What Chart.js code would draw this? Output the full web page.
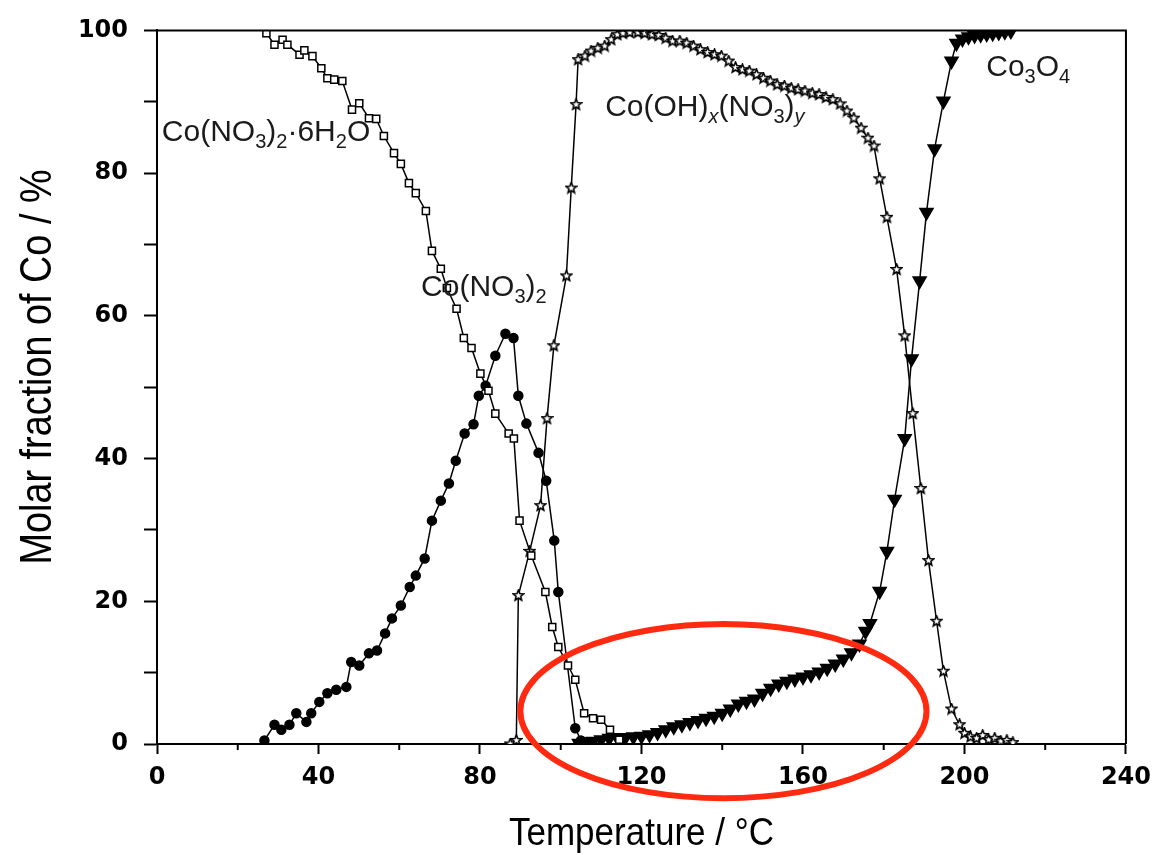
<!DOCTYPE html>
<html>
<head>
<meta charset="utf-8">
<script src="https://cdn.jsdelivr.net/npm/chart.js@4"></script>
<style>
  html, body { margin: 0; background: #fff; }
  canvas { display: block; }
</style>
</head>
<body>
<canvas id="chart" width="1160" height="855"></canvas>
<script>
// ── Data (temperature in °C, molar fraction in %)
const hexaT = [27.1, 29.1, 31.1, 32.3, 35.3, 36.5, 38.5, 40.7, 42.2, 43.9, 45.9, 48.3, 50.1, 52.5, 54.3, 56.2, 58.7, 60.4, 62.4, 64.1, 66.6, 68.1, 70.3, 71.8, 74.2, 76.0, 77.9, 80.1, 82.1, 83.8, 87.1, 88.4, 89.8, 92.7, 96.2, 97.9, 99.4, 101.8, 103.6, 105.8, 108.0, 110.0, 112.2, 114.5];
const hexaY = [99.6, 98.0, 98.7, 98.0, 96.6, 97.2, 96.4, 94.7, 93.3, 93.1, 92.9, 88.9, 89.8, 87.7, 87.6, 85.2, 82.8, 81.3, 78.6, 77.2, 74.7, 69.1, 66.6, 63.9, 61.0, 56.9, 55.5, 51.9, 49.5, 46.3, 43.5, 42.8, 31.3, 26.4, 21.3, 16.4, 13.6, 11.0, 9.0, 4.3, 3.6, 3.4, 2.0, 0.6];

const nitrateT = [26.6, 29.1, 30.8, 32.8, 34.5, 37.0, 38.2, 40.2, 42.2, 44.4, 46.9, 48.1, 50.1, 52.5, 54.5, 56.5, 58.2, 60.4, 62.6, 64.1, 66.3, 68.1, 70.3, 72.3, 74.0, 76.2, 78.4, 79.7, 81.4, 83.8, 86.3, 88.3, 89.5, 91.5, 94.5, 96.4, 98.4, 99.4, 103.6, 105.0];
const nitrateY = [0.5, 2.7, 2.0, 2.7, 4.3, 3.1, 4.3, 5.9, 7.1, 7.6, 8.0, 11.5, 11.0, 12.7, 13.1, 15.5, 17.6, 19.4, 22.0, 23.6, 26.0, 31.3, 34.1, 36.5, 39.7, 43.5, 44.8, 48.8, 50.2, 54.4, 57.5, 56.9, 48.8, 44.9, 40.8, 36.9, 28.5, 21.3, 2.2, 0.5];

const hydroxT = [87.5, 89.0, 89.5, 92.3, 95.0, 96.6, 98.3, 101.4, 102.6, 103.8, 104.3, 106.0, 107.5, 109.2, 110.9, 112.5, 114.0, 115.4, 117.1, 119.1, 120.8, 122.6, 124.3, 126.0, 127.7, 129.5, 131.2, 132.9, 134.6, 136.4, 138.1, 139.8, 141.6, 143.3, 145.0, 146.7, 148.5, 150.2, 151.9, 153.6, 155.4, 157.1, 158.8, 160.5, 162.3, 164.0, 165.7, 167.4, 169.2, 170.9, 172.6, 174.4, 176.1, 177.6, 179.0, 180.8, 183.2, 185.2, 187.2, 189.2, 191.1, 193.1, 194.8, 196.8, 198.8, 200.0, 201.5, 203.0, 204.5, 206.0, 207.5, 209.0, 210.5, 212.0];
const hydroxY = [0.0, 0.5, 20.8, 27.0, 33.4, 45.6, 55.8, 65.6, 77.9, 89.6, 95.9, 96.4, 97.1, 97.5, 97.8, 98.7, 99.4, 99.6, 99.7, 99.7, 99.6, 99.4, 99.3, 98.9, 98.5, 98.5, 98.2, 97.8, 97.3, 96.9, 96.6, 96.4, 95.7, 94.8, 94.5, 94.3, 93.8, 93.3, 92.9, 92.4, 92.2, 91.9, 91.7, 91.5, 91.2, 91.0, 90.6, 90.3, 89.7, 88.7, 87.7, 86.3, 84.9, 83.8, 79.2, 73.8, 66.5, 57.2, 46.3, 35.8, 25.7, 17.2, 10.2, 4.9, 2.7, 1.5, 1.0, 0.8, 1.2, 0.6, 0.8, 0.4, 0.5, 0.2];

const oxideT = [104.5, 106.0, 108.0, 110.0, 112.0, 114.0, 116.0, 118.0, 120.0, 122.0, 124.0, 126.0, 128.0, 130.0, 132.0, 134.0, 136.0, 138.0, 140.0, 142.0, 144.0, 146.0, 148.0, 150.0, 152.0, 154.0, 156.0, 158.0, 160.0, 162.0, 164.0, 166.0, 168.0, 170.0, 172.0, 174.0, 175.5, 176.6, 179.0, 180.8, 182.7, 185.2, 186.9, 188.9, 190.6, 192.6, 194.8, 196.8, 198.0, 199.5, 201.0, 202.5, 204.0, 205.5, 207.0, 208.5, 210.0, 211.5];
const oxideY = [0.1, 0.3, 0.4, 0.6, 0.8, 0.9, 0.9, 1.0, 1.1, 1.3, 1.6, 2.0, 2.4, 2.7, 3.0, 3.3, 3.6, 3.9, 4.3, 4.9, 5.6, 6.0, 6.3, 7.1, 7.8, 8.4, 8.8, 9.1, 9.4, 9.7, 10.1, 10.6, 11.2, 11.9, 12.8, 14.0, 15.8, 16.9, 21.4, 27.0, 34.3, 42.8, 54.0, 64.9, 74.5, 83.4, 90.1, 95.7, 98.2, 98.8, 99.1, 99.3, 99.4, 99.5, 99.6, 99.7, 99.8, 99.9];

const xMajor = [0, 40, 80, 120, 160, 200, 240];
const yMajor = [0, 20, 40, 60, 80, 100];

// ── Marker images
function starImage(size) {
  const c = document.createElement('canvas');
  c.width = c.height = size;
  const g = c.getContext('2d');
  const cx = size / 2, cy = size / 2, R = size / 2 - 1, r = R * 0.45;
  g.beginPath();
  for (let i = 0; i < 10; i++) {
    const a = -Math.PI / 2 + i * Math.PI / 5;
    const rad = i % 2 ? r : R;
    g.lineTo(cx + rad * Math.cos(a), cy + rad * Math.sin(a));
  }
  g.closePath();
  g.fillStyle = '#fff';
  g.fill();
  g.lineWidth = 1.6;
  g.strokeStyle = '#000';
  g.stroke();
  return c;
}
const star = starImage(13);

const pts = (xs, ys) => xs.map((x, i) => ({ x, y: ys[i] }));

// ── Plugins: frame, minor x ticks, labels, axis titles, red ellipse
const frame = {
  id: 'frame',
  afterDraw(chart) {
    const { ctx, chartArea: a, scales: { x } } = chart;
    ctx.save();
    ctx.strokeStyle = '#000';
    ctx.lineWidth = 2;
    ctx.beginPath();
    ctx.moveTo(a.left, a.top);
    ctx.lineTo(a.right, a.top);
    ctx.lineTo(a.right, a.bottom);
    ctx.stroke();
    for (let v = 20; v < 240; v += 40) {
      const px = x.getPixelForValue(v);
      ctx.beginPath();
      ctx.moveTo(px, a.bottom);
      ctx.lineTo(px, a.bottom + 6);
      ctx.stroke();
    }
    ctx.restore();
  }
};

function formula(ctx, parts, x, y) {
  // parts: [text, kind] where kind: '' normal, 's' subscript, 'i' italic subscript
  for (const [t, k] of parts) {
    if (k) {
      ctx.font = (k === 'i' ? 'italic ' : '') + '20px "Liberation Sans", Arial, sans-serif';
      ctx.fillText(t, x, y + 7);
    } else {
      ctx.font = '30px "Liberation Sans", Arial, sans-serif';
      ctx.fillText(t, x, y);
    }
    x += ctx.measureText(t).width;
  }
}

// condensed title: squeeze text to a given length along its baseline
function squeezed(ctx, text, size, len, x, y, angle) {
  ctx.save();
  ctx.font = size + 'px "Liberation Sans", Arial, sans-serif';
  const w = ctx.measureText(text).width;
  ctx.translate(x, y);
  ctx.rotate(angle);
  ctx.scale(len / w, 1);
  ctx.textAlign = 'center';
  ctx.textBaseline = 'alphabetic';
  ctx.fillStyle = '#000';
  ctx.fillText(text, 0, 0);
  ctx.restore();
}

const labels = {
  id: 'labels',
  afterDraw(chart) {
    const { ctx, chartArea: a, scales: { x, y } } = chart;
    ctx.save();
    ctx.fillStyle = '#1a1a1a';
    ctx.textBaseline = 'alphabetic';
    ctx.textAlign = 'left';
    formula(ctx, [['Co(NO', ''], ['3', 's'], [')', ''], ['2', 's'], ['\u00b76H', ''], ['2', 's'], ['O', '']],
      x.getPixelForValue(1.2), y.getPixelForValue(84.5));
    formula(ctx, [['Co(NO', ''], ['3', 's'], [')', ''], ['2', 's']],
      x.getPixelForValue(65.4), y.getPixelForValue(62.8));
    formula(ctx, [['Co(OH)', ''], ['x', 'i'], ['(NO', ''], ['3', 's'], [')', ''], ['y', 'i']],
      x.getPixelForValue(111.0), y.getPixelForValue(88.0));
    formula(ctx, [['Co', ''], ['3', 's'], ['O', ''], ['4', 's']],
      x.getPixelForValue(205.4), y.getPixelForValue(93.6));
    ctx.restore();

    // axis titles
    squeezed(ctx, 'Temperature / °C', 38, 265, (a.left + a.right) / 2, 845, 0);
    squeezed(ctx, 'Molar fraction of Co / %', 45, 395, 51, 367, -Math.PI / 2);

    // highlight ellipse
    const cx = x.getPixelForValue(140.3), cy = y.getPixelForValue(4.6);
    const rx = x.getPixelForValue(140.3 + 50.3) - cx, ry = cy - y.getPixelForValue(4.6 + 12.2);
    ctx.save();
    ctx.strokeStyle = '#ff2a10';
    ctx.lineWidth = 6;
    ctx.beginPath();
    ctx.ellipse(cx, cy, rx, ry, 0, 0, Math.PI * 2);
    ctx.stroke();
    ctx.restore();
  }
};

const line = { borderColor: '#000', borderWidth: 1.5, pointBorderColor: '#000', pointBorderWidth: 1.5, showLine: true };

new Chart(document.getElementById('chart'), {
  type: 'scatter',
  data: {
    datasets: [
      { ...line, label: 'Co(NO3)2·6H2O', data: pts(hexaT, hexaY), pointStyle: 'rect', pointRadius: 5, pointBackgroundColor: '#fff' },
      { ...line, label: 'Co(NO3)2', data: pts(nitrateT, nitrateY), pointStyle: 'circle', pointRadius: 4.5, pointBackgroundColor: '#000' },
      { ...line, label: 'Co(OH)x(NO3)y', data: pts(hydroxT, hydroxY), pointStyle: star, pointRadius: 6 },
      { ...line, label: 'Co3O4', data: pts(oxideT, oxideY), pointStyle: 'triangle', pointRotation: 180, pointRadius: 7.5, pointBackgroundColor: '#000' }
    ]
  },
  options: {
    responsive: false,
    animation: false,
    devicePixelRatio: 1,
    layout: { padding: { left: 0, top: 29, right: 30, bottom: 0 } },
    plugins: { legend: { display: false }, tooltip: { enabled: false } },
    scales: {
      x: {
        type: 'linear', min: 0, max: 240,
        afterFit: s => { s.height = 111; },
        afterBuildTicks: s => { s.ticks = xMajor.map(v => ({ value: v })); },
        ticks: { color: '#000', padding: 9, maxRotation: 0, autoSkip: false,
                 font: { family: '"DejaVu Sans", sans-serif', size: 24, weight: 'bold' } },
        grid: { drawOnChartArea: false, tickLength: 10, tickWidth: 2, tickColor: '#000' },
        border: { color: '#000', width: 2 }
      },
      y: {
        type: 'linear', min: 0, max: 100,
        afterFit: s => { s.width = 157; },
        ticks: { stepSize: 10, color: '#000', padding: 16, autoSkip: false,
                 callback: v => yMajor.includes(v) ? v : '',
                 font: { family: '"DejaVu Sans", sans-serif', size: 24, weight: 'bold' } },
        grid: { drawOnChartArea: false, tickLength: 13, tickWidth: 2, tickColor: '#000' },
        border: { color: '#000', width: 2 }
      }
    }
  },
  plugins: [frame, labels]
});
</script>
</body>
</html>
